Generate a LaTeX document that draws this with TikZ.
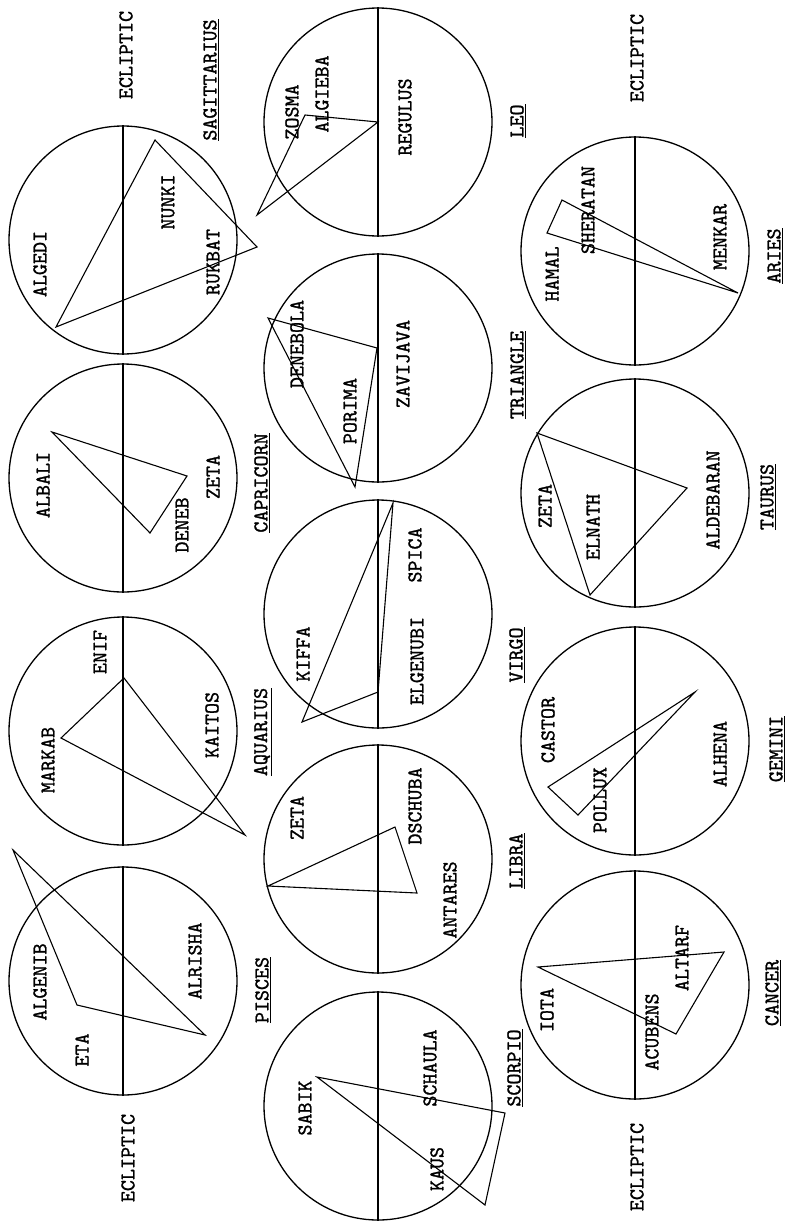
\documentclass[tikz,border=0pt]{standalone}
\usepackage{fontspec}
\newfontfamily\twfont{lmmono10-regular}[Extension=.otf, FakeBold=1.2]
\tikzset{
  disk/.style={draw, circle, minimum size=228pt, inner sep=0pt, line width=1.3pt},
  ecl/.style={line width=1.1pt},
  fig/.style={line width=1.1pt, line join=miter},
  lab/.style={rotate=90, inner sep=0pt, font=\twfont\fontsize{21}{23}\selectfont},
}
\newcommand\cname[1]{\underline{#1}}
\begin{document}
\begin{tikzpicture}[x=1pt,y=-1pt]
\useasboundingbox (0,0) rectangle (790,1229);

% ---------- column 1 ----------
% Sagittarius
\node[disk] (sgr) at (123,240) {};
\draw[ecl] (sgr.north) -- (sgr.south);
\coordinate (sgr1) at (155,140);
\coordinate (sgr2) at (56,327);
\coordinate (sgr3) at (257,247);
\draw[fig] (sgr1) -- (sgr2) -- (sgr3) -- cycle;
\node[lab] (sgra) at (40,264) {ALGEDI};
\node[lab] (sgrb) at (168,202) {NUNKI};
\node[lab] (sgrc) at (213,262) {RUKBAT};
\node[lab] (sgrt) at (211,80) {\cname{SAGITTARIUS}};
\node[lab] (ecl1) at (126,55) {ECLIPTIC};

% Capricorn
\node[disk] (cap) at (123,478) {};
\draw[ecl] (cap.north) -- (cap.south);
\coordinate (cap1) at (52,432);
\coordinate (cap2) at (187,476);
\coordinate (cap3) at (150,533);
\draw[fig] (cap1) -- (cap2) -- (cap3) -- cycle;
\node[lab] (capa) at (43,485) {ALBALI};
\node[lab] (capb) at (182,525) {DENEB};
\node[lab] (capc) at (213,477) {ZETA};
\node[lab] (capt) at (262,483) {\cname{CAPRICORN}};

% Aquarius
\node[disk] (aqr) at (123,731) {};
\draw[ecl] (aqr.north) -- (aqr.south);
\coordinate (aqr1) at (61,738);
\coordinate (aqr2) at (124,678);
\coordinate (aqr3) at (245,835);
\draw[fig] (aqr1) -- (aqr2) -- (aqr3) -- cycle;
\node[lab] (aqra) at (48,760) {MARKAB};
\node[lab] (aqrb) at (100,652) {ENIF};
\node[lab] (aqrc) at (212,725) {KAITOS};
\node[lab] (aqrt) at (263,732) {\cname{AQUARIUS}};

% Pisces
\node[disk] (psc) at (123,981) {};
\draw[ecl] (psc.north) -- (psc.south);
\coordinate (psc1) at (13,850);
\coordinate (psc2) at (77,1005);
\coordinate (psc3) at (205,1035);
\draw[fig] (psc1) -- (psc2) -- (psc3) -- cycle;
\node[lab] (psca) at (40,982) {ALGENIB};
\node[lab] (pscb) at (82,1050) {ETA};
\node[lab] (pscc) at (195,961) {ALRISHA};
\node[lab] (psct) at (263,990) {\cname{PISCES}};
\node[lab] (ecl2) at (128,1158) {ECLIPTIC};

% ---------- column 2 ----------
% Leo
\node[disk] (leo) at (378,122) {};
\draw[ecl] (leo.north) -- (leo.south);
\coordinate (leo1) at (378,122);
\coordinate (leo2) at (305,115);
\coordinate (leo3) at (257,215);
\draw[fig] (leo1) -- (leo2) -- (leo3) -- cycle;
\node[lab] (leoa) at (292,112) {ZOSMA};
\node[lab] (leob) at (322,94) {ALGIEBA};
\node[lab] (leoc) at (405,117) {REGULUS};
\node[lab] (leot) at (518,121) {\cname{LEO}};

% Triangle
\node[disk] (tri) at (378,368) {};
\draw[ecl] (tri.north) -- (tri.south);
\coordinate (tri1) at (268,318);
\coordinate (tri2) at (377,348);
\coordinate (tri3) at (355,487);
\draw[fig] (tri1) -- (tri2) -- (tri3) -- cycle;
\node[lab] (tria) at (297,344) {DENEBOLA};
\node[lab] (trib) at (350,411) {PORIMA};
\node[lab] (tric) at (403,364) {ZAVIJAVA};
\node[lab] (trit) at (518,375) {\cname{TRIANGLE}};

% Virgo
\node[disk] (vir) at (378,614) {};
\draw[ecl] (vir.north) -- (vir.south);
\coordinate (vir1) at (302,722);
\coordinate (vir2) at (393,503);
\coordinate (vir3) at (378,692);
\draw[fig] (vir1) -- (vir2) -- (vir3) -- cycle;
\node[lab] (vira) at (303,654) {KIFFA};
\node[lab] (virb) at (417,661) {ELGENUBI};
\node[lab] (virc) at (415,555) {SPICA};
\node[lab] (virt) at (517,655) {\cname{VIRGO}};

% Libra
\node[disk] (lib) at (378,859) {};
\draw[ecl] (lib.north) -- (lib.south);
\coordinate (lib1) at (268,886);
\coordinate (lib2) at (395,827);
\coordinate (lib3) at (417,893);
\draw[fig] (lib1) -- (lib2) -- (lib3) -- cycle;
\node[lab] (liba) at (297,818) {ZETA};
\node[lab] (libb) at (415,806) {DSCHUBA};
\node[lab] (libc) at (450,900) {ANTARES};
\node[lab] (libt) at (517,861) {\cname{LIBRA}};

% Scorpio
\node[disk] (sco) at (378,1106) {};
\draw[ecl] (sco.north) -- (sco.south);
\coordinate (sco1) at (317,1077);
\coordinate (sco2) at (505,1113);
\coordinate (sco3) at (485,1205);
\draw[fig] (sco1) -- (sco2) -- (sco3) -- cycle;
\node[lab] (scoa) at (305,1108) {SABIK};
\node[lab] (scob) at (430,1068) {SCHAULA};
\node[lab] (scoc) at (437,1169) {KAUS};
\node[lab] (scot) at (515,1068) {\cname{SCORPIO}};

% ---------- column 3 ----------
% Aries
\node[disk] (ari) at (635,251) {};
\draw[ecl] (ari.north) -- (ari.south);
\coordinate (ari1) at (562,200);
\coordinate (ari2) at (547,233);
\coordinate (ari3) at (738,293);
\draw[fig] (ari1) -- (ari2) -- (ari3) -- cycle;
\node[lab] (aria) at (552,274) {HAMAL};
\node[lab] (arib) at (588,210) {SHERATAN};
\node[lab] (aric) at (720,237) {MENKAR};
\node[lab] (arit) at (775,256) {\cname{ARIES}};
\node[lab] (ecl3) at (637,58) {ECLIPTIC};

% Taurus
\node[disk] (tau) at (635,493) {};
\draw[ecl] (tau.north) -- (tau.south);
\coordinate (tau1) at (537,433);
\coordinate (tau2) at (687,488);
\coordinate (tau3) at (590,595);
\draw[fig] (tau1) -- (tau2) -- (tau3) -- cycle;
\node[lab] (taua) at (545,506) {ZETA};
\node[lab] (taub) at (593,527) {ELNATH};
\node[lab] (tauc) at (713,500) {ALDEBARAN};
\node[lab] (taut) at (768,497) {\cname{TAURUS}};

% Gemini
\node[disk] (gem) at (635,741) {};
\draw[ecl] (gem.north) -- (gem.south);
\coordinate (gem1) at (695,692);
\coordinate (gem2) at (548,787);
\coordinate (gem3) at (578,815);
\draw[fig] (gem1) -- (gem2) -- (gem3) -- cycle;
\node[lab] (gema) at (548,730) {CASTOR};
\node[lab] (gemb) at (600,800) {POLLUX};
\node[lab] (gemc) at (720,754) {ALHENA};
\node[lab] (gemt) at (777,749) {\cname{GEMINI}};

% Cancer
\node[disk] (cnc) at (635,985) {};
\draw[ecl] (cnc.north) -- (cnc.south);
\coordinate (cnc1) at (538,967);
\coordinate (cnc2) at (724,952);
\coordinate (cnc3) at (676,1034);
\draw[fig] (cnc1) -- (cnc2) -- (cnc3) -- cycle;
\node[lab] (cnca) at (547,1010) {IOTA};
\node[lab] (cncb) at (652,1032) {ACUBENS};
\node[lab] (cncc) at (682,958) {ALTARF};
\node[lab] (cnct) at (773,993) {\cname{CANCER}};
\node[lab] (ecl4) at (637,1167) {ECLIPTIC};
\end{tikzpicture}
\end{document}
